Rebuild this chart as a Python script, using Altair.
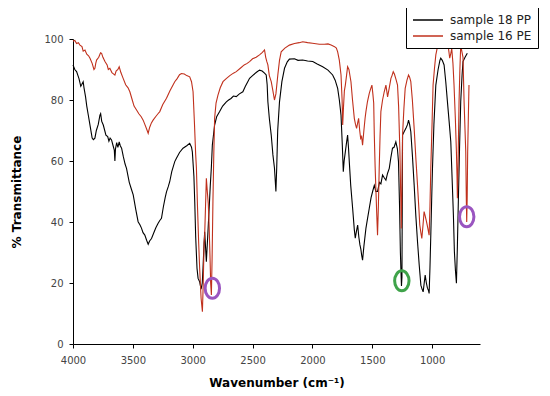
import altair as alt
import pandas as pd

# ---- data ----
pp_wn = [4000,3985,3970,3950,3935,3928,3915,3908,3895,3885,3872,3855,3840,3830,3817,3805,3789,3775,3769,3760,
         3747,3735,3725,3710,3700,3690,3678,3665,3655,3650,3645,3635,3625,3614,3605,3594,3580,3565,3553,3530,
         3510,3497,3475,3456,3440,3428,3415,3400,3385,3372,3360,3344,3325,3308,3290,3275,3261,3245,3230,3219,
         3205,3192,3175,3150,3136,3110,3081,3050,3025,3010,3003,2990,2983,2975,2964,2955,2942,2930,2920,2914,
         2905,2900,2893,2886,2875,2864,2853,2844,2836,2817,2800,2775,2750,2719,2700,2680,2660,2636,2610,2581,
         2560,2540,2525,2500,2470,2442,2420,2400,2386,2378,2372,2360,2344,2330,2317,2305,2298,2290,2275,2255,
         2233,2210,2192,2150,2120,2081,2040,1997,1960,1914,1870,1831,1810,1789,1775,1761,1750,1742,1735,1725,
         1715,1706,1698,1692,1680,1664,1650,1642,1632,1622,1612,1603,1595,1588,1581,1570,1553,1540,1525,1510,
         1497,1483,1470,1456,1440,1428,1414,1400,1386,1372,1358,1345,1331,1318,1303,1290,1281,1272,1265,1261,
         1256,1252,1249,1247,1235,1219,1205,1197,1188,1178,1165,1150,1136,1122,1108,1094,1084,1075,1066,1058,
         1048,1039,1030,1025,1018,1011,1004,997,985,969,950,935,928,915,900,886,872,858,844,831,
         822,814,805,797,789,781,771,761,750,742,725,706]
pp_pct = [91.5,90,89.3,87,84.5,85,86,84,81,78,75,71,67.5,67,67.5,70,72,75,75.5,73,
          71.8,70,68.5,68,66.5,67.5,66.9,65,63.6,60,64,66,64.5,66.3,65,64.2,61.5,59,57.6,53,
          50.5,48.9,44,40.1,39,38,36.5,35.7,34,32.7,33.8,34.6,36.5,38.1,39.5,40.5,41.2,45,48,49.9,
          51.5,53.2,56.5,59.8,60.9,62.8,64.2,65,65.8,64.5,63,55,46.7,35,24.8,21.5,20.4,18,20,24.8,
          33,36.8,32,27,35,43.4,52.1,58,65.2,71.8,74.5,76.2,78,79.4,80,80.5,81.3,81.1,82,82.7,
          84.5,86,87.1,88,89,89.8,89.5,88.8,88.2,85,79.4,74,68.5,62,57.7,50,58,70,79.4,86,
          90.4,92.5,93.4,93.5,93,93.1,92.8,92.6,91.8,90.9,89.8,88.2,86.5,83.8,80,75,65,56.5,60,63,
          66,68.5,64,59.8,52,44.5,37.5,34.7,37,39,35,32.5,31,29,27.5,32,37.9,41,44.5,48,
          50,52,50,50,53,52.5,55.4,54.5,53.7,56,57.6,61,64.2,64.5,66.3,64,59.8,45,30,24.8,
          19,22,50,68.5,69.5,70.7,72,73.4,72,69.6,62,52.1,42,33.5,26,19.3,18,17.1,20,22.6,
          20,18.3,17.5,16.6,25,35.7,47,57.6,72,84.9,90,93,93.7,93,91.5,86,79.4,73,66.3,52.1,
          42,30.3,24,19.9,32,46.7,64,79.4,88,92.6,94,95.3]

pe_wn = [4000,3985,3970,3955,3942,3925,3915,3900,3885,3870,3858,3840,3825,3817,3810,3803,3785,3770,3761,3750,
         3733,3715,3705,3692,3675,3660,3650,3640,3625,3614,3600,3581,3560,3540,3525,3505,3490,3469,3450,3430,
         3414,3400,3385,3372,3360,3345,3331,3310,3290,3275,3250,3219,3190,3150,3130,3110,3094,3070,3050,3025,
         3010,2997,2985,2975,2969,2960,2950,2942,2930,2919,2912,2905,2900,2893,2886,2878,2870,2864,2855,2850,
         2844,2838,2831,2824,2817,2805,2789,2770,2747,2720,2690,2660,2636,2600,2570,2545,2525,2500,2470,2442,
         2420,2400,2390,2380,2372,2360,2344,2330,2317,2305,2289,2275,2261,2230,2192,2150,2110,2081,2040,2000,
         1942,1900,1870,1844,1815,1800,1789,1775,1761,1752,1747,1740,1733,1725,1715,1706,1695,1678,1665,1650,
         1640,1631,1622,1614,1605,1597,1589,1581,1570,1560,1553,1540,1525,1515,1503,1495,1488,1483,1476,1469,
         1462,1456,1449,1442,1435,1428,1414,1400,1386,1379,1372,1358,1344,1335,1325,1315,1300,1289,1280,1269,
         1262,1258,1253,1247,1236,1225,1210,1197,1188,1178,1165,1150,1136,1122,1110,1103,1094,1086,1076,1067,
         1058,1047,1036,1025,1018,1011,1000,992,980,969,955,942,925,910,900,886,872,862,853,845,
         836,826,817,806,797,792,789,783,775,768,761,752,742,733,725,719,714,711,707,703,
         697,692]
pe_pct = [99.3,99.5,98.5,98.8,98,97.5,96,96.4,95,94.5,93.7,92,90,90.4,92,93.1,94,95.5,95.3,94,
          92.6,91.5,90,90.4,89,88.5,88.2,89.5,90,90.9,89,87.1,85,84,82.7,80,78,76.7,75.5,74.5,
          73.4,72,70.5,69.1,71,72.5,73.4,74.5,75.5,76.2,78.5,80.6,83,86,87,88.3,88.7,88.5,88,87.6,
          86,82.7,72,62,57.6,45,33,24.9,15,10.6,20,33,35.7,45,54.3,50,46,40.1,28,20,
          16.1,28,46.7,62,74,79,81.6,84,86,87,88,88.8,89.3,90.5,91.5,92,92.6,93.5,94,94.8,
          95.5,96.4,94,92.5,91.5,88,86,83,80,82,88.2,93,95.8,97,98,98.5,98.8,99.1,98.8,98.6,
          98.3,98.3,98.4,98,97.5,97,95.8,93,88.2,80,71.8,78,83,84.9,88,90.9,90,86,80,74,
          72,70.7,72.5,74,70,67.4,68,65.2,70,74,76.2,79.5,82.2,83.5,84.9,82,79,68.5,58,49.9,
          42,35.7,45,57.6,68,76.2,80,82.7,84.9,83,81,84,87.1,88,89.3,88.5,86.5,84.9,78,63,
          48,37.9,50,68.5,77,83.8,86.5,88.2,87.5,86,80,70.7,61,52.1,44,39,36.5,34.6,39,43.4,
          42,40.1,38,35.7,45,57.6,73,84.9,90.5,94.8,97.5,99.7,99,98.2,98,98.8,99.1,96.5,93.7,95,
          96.9,92,84.9,74,63,55,47.8,60,79.4,90,98,96,94,79.4,70,63,46.7,40,48,63,
          75,84.9]

series_names = ["sample 18 PP", "sample 16 PE"]
series_colors = ["#000000", "#c0301c"]

circle_wn = [2836, 1253, 711]
circle_pct = [18.3, 20.7, 41.7]
circle_colors = ["#9a55c0", "#3fa34a"]
circle_kind = ["purple", "green", "purple"]

x_ticks = [4000, 3750, 3500, 3250, 3000, 2750, 2500, 2250, 2000, 1750, 1500, 1250, 1000, 750]
y_ticks = [0, 10, 20, 30, 40, 50, 60, 70, 80, 90, 100]

df = pd.concat([
    pd.DataFrame({"wn": pp_wn, "pct": pp_pct, "series": series_names[0], "order": 0}),
    pd.DataFrame({"wn": pe_wn, "pct": pe_pct, "series": series_names[1], "order": 1}),
])
cdf = pd.DataFrame({"wn": circle_wn, "pct": circle_pct, "kind": circle_kind})

xscale = alt.Scale(domain=[4000, 600], nice=False, zero=False)
yscale = alt.Scale(domain=[0, 100], nice=False)

xaxis = alt.Axis(values=x_ticks, format="d",
                 labelExpr="datum.value % 500 === 0 ? datum.label : ''",
                 labelFlush=False, labelOverlap=False,
                 title="Wavenumber (cm⁻¹)", grid=False, tickSize=4, tickColor="#000",
                 domainColor="#000", labelColor="#444", labelFont="DejaVu Sans", labelFontSize=10,
                 titleFont="DejaVu Sans", titleFontSize=12, titleFontWeight="bold", titleColor="#000",
                 labelPadding=7, titlePadding=12)
yaxis = alt.Axis(values=y_ticks, format="d",
                 labelExpr="datum.value % 20 === 0 ? datum.label : ''",
                 labelFlush=False, labelOverlap=False,
                 title="% Transmittance", grid=False, tickSize=4, tickColor="#000",
                 domainColor="#000", labelColor="#444", labelFont="DejaVu Sans", labelFontSize=10,
                 titleFont="DejaVu Sans", titleFontSize=12, titleFontWeight="bold", titleColor="#000",
                 labelPadding=6, titlePadding=20)

legend_line = "M -1 0 L 4 0"

lines = alt.Chart(df).mark_line(strokeWidth=1.1, interpolate="linear").encode(
    x=alt.X("wn:Q", scale=xscale, axis=xaxis),
    y=alt.Y("pct:Q", scale=yscale, axis=yaxis),
    color=alt.Color("series:N",
                    scale=alt.Scale(domain=series_names, range=series_colors),
                    sort=series_names,
                    legend=alt.Legend(title=None, orient="none", legendX=333, legendY=-32,
                                      symbolType=legend_line, symbolSize=144, symbolStrokeWidth=1.5,
                                      strokeColor="#000", padding=6, fillColor="white",
                                      labelFont="DejaVu Sans", labelFontSize=12, labelColor="#222",
                                      rowPadding=3, labelOffset=24)),
    detail="order:O",
    order=alt.Order("wn:Q"),
)

ellipse = "M -0.72 0 A 0.72 1 0 1 0 0.72 0 A 0.72 1 0 1 0 -0.72 0 Z"
circles = alt.Chart(cdf).mark_point(shape=ellipse, filled=False, size=400, strokeWidth=3, opacity=1).encode(
    x=alt.X("wn:Q", scale=xscale),
    y=alt.Y("pct:Q", scale=yscale),
    stroke=alt.Stroke("kind:N", scale=alt.Scale(domain=["purple", "green"], range=circle_colors), legend=None),
)

chart = alt.layer(lines, circles).resolve_scale(color="independent").properties(
    width=407, height=305,
    autosize=alt.AutoSizeParams(type="none"),
    padding={"left": 65, "top": 31, "right": 62, "bottom": 44},
    background="white",
).configure_view(stroke=None)

chart.save("out.html", embed_options={"renderer": "svg", "actions": False})
